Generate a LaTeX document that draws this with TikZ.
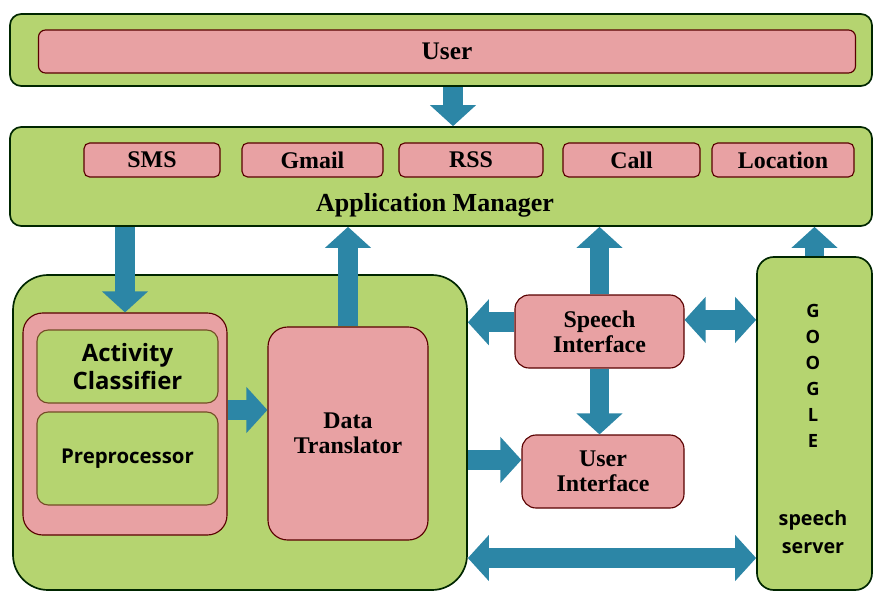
\documentclass[tikz,border=0pt]{standalone}
\usepackage{fontspec}
\setmainfont{Liberation Serif}
\newfontfamily\gillfont{Open Sans}
\usetikzlibrary{arrows.meta}
\usetikzlibrary{positioning}
\definecolor{boxgreen}{RGB}{181,212,112}
\definecolor{boxpink}{RGB}{232,161,163}
\definecolor{flowblue}{RGB}{44,134,166}
\tikzset{
  sz/.style 2 args={minimum width=#1*0.025cm,minimum height=#2*0.025cm,inner sep=0pt},
  panel/.style={draw=black!85!green,line width=1.2pt,fill=boxgreen,rounded corners=8pt},
  subpanel/.style={panel,draw=brown!60!black,line width=0.8pt,font=\gillfont\bfseries,align=center},
  unit/.style={draw=red!35!black,line width=0.8pt,fill=boxpink,rounded corners=7pt,
    align=center,font=\bfseries\fontsize{17}{18}\selectfont},
  flow/.style={flowblue,line width=14pt,-{Triangle[length=15pt,width=32pt]}},
  flowboth/.style={flow,{Triangle[length=15pt,width=32pt]}-{Triangle[length=15pt,width=32pt]}}
}
\begin{document}
\begin{tikzpicture}[x=0.025cm,y=-0.025cm]
  \useasboundingbox (0,0) rectangle (874,592);
  \node (userbar) at (441,50) [panel,sz={862}{72}] {};
  \node (user) at (447,51.5) [unit,sz={817}{43},rounded corners=5pt,
    font=\bfseries\fontsize{18}{19}\selectfont] {User};
  \node (appmgr) at (441,176.5) [panel,sz={862}{99}] {};
  \node (sms) at (152,160) [unit,sz={136}{34},rounded corners=4pt] {SMS};
  \node (gmail) at (312.5,160) [unit,sz={141}{34},rounded corners=4pt] {Gmail};
  \node (rss) at (471,160) [unit,sz={144}{34},rounded corners=4pt] {RSS};
  \node (call) at (631.5,160) [unit,sz={137}{34},rounded corners=4pt] {Call};
  \node (location) at (783,160) [unit,sz={142}{34},rounded corners=4pt] {Location};
  \node (appmgrlbl) at (435,205) [font=\bfseries\fontsize{18.5}{19}\selectfont] {Application Manager};
  \node (mainbox) at (240,432.5) [panel,sz={454}{315},rounded corners=25pt] {};
  \node (clsgrp) at (125,424) [unit,sz={204}{222},rounded corners=14pt] {};
  \node (actcls) at (127.5,366.5) [subpanel,sz={181}{73},
    font=\gillfont\bfseries\fontsize{17}{20}\selectfont] {Activity\\Classifier};
  \node (prep) at (127.5,458.5) [subpanel,sz={181}{93},
    font=\gillfont\bfseries\fontsize{14.5}{16}\selectfont] {Preprocessor};
  \node (dt) at (348,433.5) [unit,sz={160}{213},rounded corners=14pt] {Data\\Translator};
  \node (speech) at (599.5,331.5) [unit,sz={169}{73},rounded corners=10pt] {Speech\\Interface};
  \node (ui) at (603,471.5) [unit,sz={162}{73},rounded corners=10pt] {User\\Interface};
  \node (google) at (814.5,423.5) [panel,sz={115}{333},rounded corners=12pt] {};
  \node (googlelbl) at (813,376) [align=center,font=\gillfont\bfseries\fontsize{13}{18.5}\selectfont]
    {G\\O\\O\\G\\L\\E};
  \node (srvlbl) at (813,532) [align=center,font=\gillfont\bfseries\fontsize{14}{19.5}\selectfont]
    {speech\\server};
  \coordinate (clsout) at ([yshift=0.35cm]clsgrp.east);
  \coordinate (spleft) at ([yshift=0.23cm]speech.west);
  \coordinate (spright) at ([yshift=0.29cm]speech.east);
  \coordinate (uiin) at ([yshift=0.29cm]ui.west);
  \coordinate (botl) at ([yshift=0.82cm]mainbox.south east);
  \draw[flow] ([xshift=0.3cm]userbar.south) -- ([xshift=0.3cm]appmgr.north);
  \draw[flow] (clsgrp.north |- appmgr.south) -- (clsgrp.north);
  \draw[flow] (dt.north) -- (dt.north |- appmgr.south);
  \draw[flow] (speech.north) -- (speech.north |- appmgr.south);
  \draw[flow] (google.north) -- (google.north |- appmgr.south);
  \draw[flow] (clsout) -- (clsout -| dt.west);
  \draw[flow] (spleft) -- (spleft -| mainbox.east);
  \draw[flowboth] (spright) -- (spright -| google.west);
  \draw[flow] (speech.south) -- (speech.south |- ui.north);
  \draw[flow] (uiin -| mainbox.east) -- (uiin);
  \draw[flowboth] (botl) -- (botl -| google.west);
\end{tikzpicture}
\end{document}
